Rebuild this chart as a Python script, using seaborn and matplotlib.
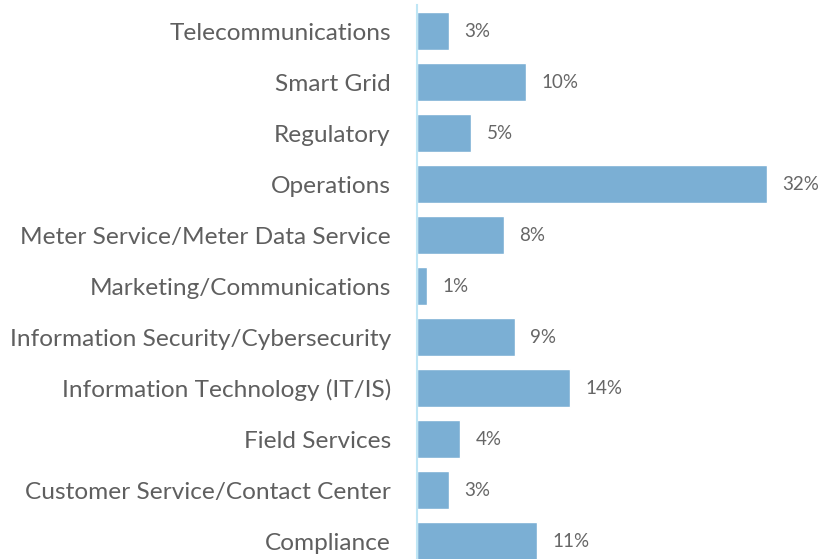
import matplotlib
matplotlib.use('Agg')
import matplotlib.pyplot as plt
import seaborn as sns
import pandas as pd

categories = ['Telecommunications', 'Smart Grid', 'Regulatory', 'Operations',
              'Meter Service/Meter Data Service', 'Marketing/Communications',
              'Information Security/Cybersecurity', 'Information Technology (IT/IS)',
              'Field Services', 'Customer Service/Contact Center', 'Compliance']
values = [3, 10, 5, 32, 8, 1, 9, 14, 4, 3, 11]

df = pd.DataFrame({'cat': categories, 'val': values})

sns.set_style('white')
plt.rcParams['font.family'] = ['Lato', 'DejaVu Sans']

fig = plt.figure(figsize=(8.23, 5.59), dpi=100)
ax = fig.add_axes([416.5/823, 0, (823-416.5)/823, 554/559])

sns.barplot(data=df, x='val', y='cat', orient='h', color='#7BAFD4',
            saturation=1, width=0.745, ax=ax)

ax.set_xlim(0, (823-416.5)/10.95)
ax.set_ylim(10.35, -0.51)

for i, v in enumerate(values):
    ax.text(v + 1.4, i, f'{v}%', va='center', ha='left', fontsize=13.5, color='#666666')

for s in ['top', 'right', 'bottom']:
    ax.spines[s].set_visible(False)
ax.spines['left'].set_color('#BFE6F5')
ax.spines['left'].set_linewidth(1.5)
ax.set_xticks([])
ax.set_xlabel('')
ax.set_ylabel('')
ax.tick_params(axis='y', length=0, pad=18.5, labelsize=17.6, labelcolor='#5f5f5f')

fig.savefig('out.png', dpi=100)
